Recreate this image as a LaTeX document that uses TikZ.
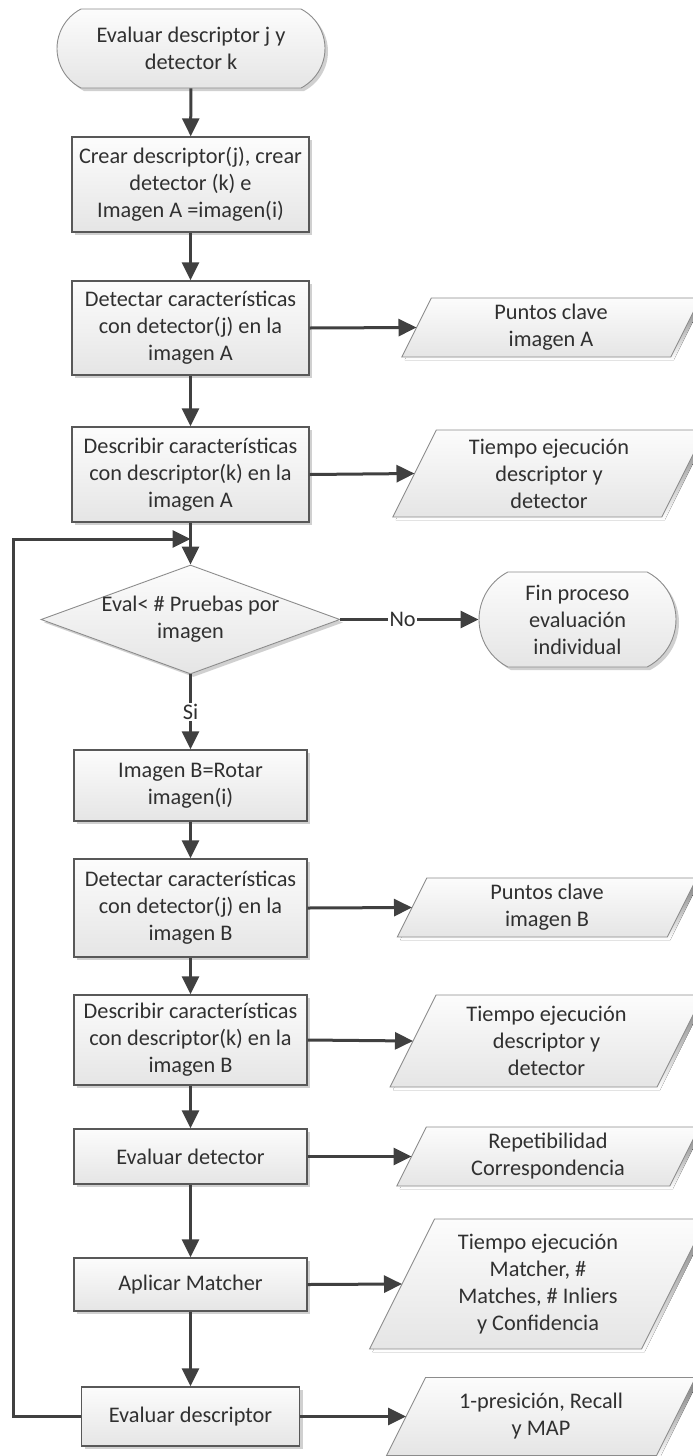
\documentclass[tikz,border=0pt]{standalone}
\usepackage{fontspec}
\setmainfont{Carlito}
\usetikzlibrary{arrows.meta,shapes.geometric,shapes.misc,shadows,calc}

\definecolor{ink}{HTML}{303030}
\definecolor{wire}{HTML}{404040}
\definecolor{edge}{HTML}{585858}
\definecolor{thinedge}{HTML}{8C8C8C}
\definecolor{filltop}{HTML}{FCFCFC}
\definecolor{fillbot}{HTML}{E5E5E5}
\definecolor{shade}{HTML}{D0D0D0}

\tikzset{
  txt/.style={font=\fontsize{22.3pt}{27pt}\selectfont, text=ink, align=center},
  boxshadow/.style={drop shadow={shadow xshift=3pt, shadow yshift=-3pt, fill=shade, opacity=1}},
  procbox/.style={txt, rectangle, draw=edge, line width=1.4pt,
    top color=filltop, bottom color=fillbot, inner sep=0pt, boxshadow},
  termbox/.style={txt, rounded rectangle, rounded rectangle arc length=125,
    draw=thinedge, line width=0.9pt, top color=filltop, bottom color=fillbot,
    inner sep=0pt, boxshadow},
  decbox/.style={diamond, draw=thinedge, line width=0.9pt,
    top color=filltop, bottom color=fillbot, inner sep=0pt, boxshadow},
  ioedge/.style={draw=thinedge, line width=0.9pt, top color=filltop, bottom color=fillbot},
  flow/.style={draw=wire, line width=3pt, -{Triangle[length=18pt,width=17pt]}},
  tag/.style={txt, fill=white, inner sep=1.5pt},
}

% data shape: name, centre x, centre y, bottom width, height, text
\newcommand\ioshape[6]{%
  \begin{scope}[shift={(#2+3,#3+3)}]
    \fill[shade] (-#4/2-#5/4,#5/2) -- (-#4/2+#5/4,-#5/2) -- (#4/2+#5/4,-#5/2) -- (#4/2-#5/4,#5/2) -- cycle;
  \end{scope}
  \begin{scope}[shift={(#2,#3)}]
    \path[ioedge] (-#4/2-#5/4,#5/2) -- (-#4/2+#5/4,-#5/2) -- (#4/2+#5/4,-#5/2) -- (#4/2-#5/4,#5/2) -- cycle;
  \end{scope}
  \node[txt] (#1) at (#2,#3) {#6};
  \coordinate (#1-in) at (#2-#4/2,#3);
}

\begin{document}
\begin{tikzpicture}[x=1pt,y=-1pt]
\useasboundingbox (0,0) rectangle (693,1456);

% main column
\node[termbox, minimum width=268pt, minimum height=79pt] (start) at (191,48.5) {Evaluar descriptor j y\\detector k};
\node[procbox, minimum width=237pt, minimum height=95pt] (b1) at (190.5,184.5) {Crear descriptor(j), crear\\detector (k) e\\Imagen A =imagen(i)};
\node[procbox, minimum width=237pt, minimum height=94pt] (b2) at (190.5,328) {Detectar características\\con detector(j) en la\\imagen A};
\node[procbox, minimum width=237pt, minimum height=95pt] (b3) at (190.5,474.5) {Describir características\\con descriptor(k) en la\\imagen A};
\node[decbox, minimum width=299pt, minimum height=109pt] (dec) at (190.5,619.5) {};
\node[txt] (dectext) at (dec.center) {Eval< \# Pruebas por\\imagen};
\node[termbox, minimum width=197pt, minimum height=95pt] (finish) at (577.5,619.5) {Fin proceso\\evaluación\\individual};
\node[procbox, minimum width=233pt, minimum height=71pt] (b4) at (190.5,785.5) {Imagen B=Rotar\\imagen(i)};
\node[procbox, minimum width=233pt, minimum height=98pt] (b5) at (190.5,908) {Detectar características\\con detector(j) en la\\imagen B};
\node[procbox, minimum width=233pt, minimum height=90pt] (b6) at (190.5,1040) {Describir características\\con descriptor(k) en la\\imagen B};
\node[procbox, minimum width=233pt, minimum height=55pt] (b7) at (190.5,1156.5) {Evaluar detector};
\node[procbox, minimum width=233pt, minimum height=53pt] (b8) at (190.5,1284.5) {Aplicar Matcher};
\node[procbox, minimum width=218pt, minimum height=59pt] (b9) at (190.5,1416.5) {Evaluar descriptor};

% outputs
\ioshape{pa}{551}{327.5}{269}{59}{Puntos clave\\imagen A}
\ioshape{ta}{549}{473.5}{269}{87}{Tiempo ejecución\\descriptor y\\detector}
\ioshape{pb}{547}{907.5}{270}{59}{Puntos clave\\imagen B}
\ioshape{tb}{546.5}{1041}{267}{92}{Tiempo ejecución\\descriptor y\\detector}
\ioshape{rc}{548}{1156.5}{273}{59}{Repetibilidad\\Correspondencia}
\ioshape{tm}{538}{1284}{272}{130}{Tiempo ejecución\\Matcher, \#\\Matches, \# Inliers\\y Confidencia}
\ioshape{pr}{541}{1416.5}{270}{78}{1-presición, Recall\\y MAP}

% connectors
\coordinate (join) at (190.5,539);
\coordinate (loopcorner) at (13,1416.5);

\draw[flow] (start) -- (b1);
\draw[flow] (b1) -- (b2);
\draw[flow] (b2) -- (b3);
\draw[flow] (b3) -- (dec.north);
\draw[flow] (dec.east) -- node[tag, pos=0.45] {No} (finish.west);
\draw[flow] (dec.south) -- node[tag, pos=0.5] {Si} (b4.north);
\draw[flow] (b4) -- (b5);
\draw[flow] (b5) -- (b6);
\draw[flow] (b6) -- (b7);
\draw[flow] (b7) -- (b8);
\draw[flow] (b8) -- (b9);
\draw[flow] (b9.west) -- (loopcorner) |- (join);

\draw[flow] (b2.east) -- (pa-in);
\draw[flow] (b3.east) -- (ta-in);
\draw[flow] (b5.east) -- (pb-in);
\draw[flow] (b6.east) -- (tb-in);
\draw[flow] (b7.east) -- (rc-in);
\draw[flow] (b8.east) -- (tm-in);
\draw[flow] (b9.east) -- (pr-in);
\end{tikzpicture}
\end{document}
